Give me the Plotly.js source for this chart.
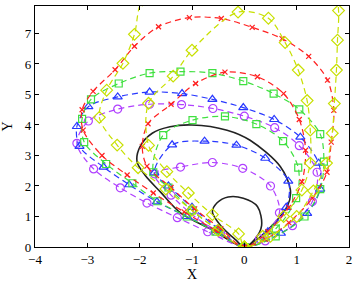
<!DOCTYPE html>
<html>
<head>
<meta charset="utf-8">
<script src="https://cdn.plot.ly/plotly-3.0.1.min.js"></script>
<style>html,body{margin:0;padding:0;background:#fff;}#chart{width:359px;height:285px;}</style>
</head>
<body>
<div id="chart"></div>
<script>
// Black solid loops
var blackSmallX = [0, -0.17, -0.45, -0.61, -0.52, -0.31, -0.02, 0.25, 0.33, 0.2, 0];
var blackSmallY = [0, 0.24, 0.7, 1.15, 1.45, 1.64, 1.6, 1.33, 0.7, 0.25, 0];
var blackBigX = [0, -0.6, -1.22, -1.6, -1.9, -2.05, -1.99, -1.76, -1.42, -1.0, -0.33, 0.11, 0.69, 0.88, 0.82, 0.31, 0];
var blackBigY = [0, 0.55, 1.12, 1.8, 2.36, 2.8, 3.3, 3.73, 3.94, 4.0, 3.83, 3.5, 2.63, 1.87, 1.33, 0.34, 0];

// Purple circles
var purpleInX = [0, -0.45, -0.95, -1.4, -1.72, -1.22, -0.61, -0.03, 0.5, 0.67, 0.29, 0];
var purpleInY = [0, 0.45, 1.0, 1.7, 2.4, 2.62, 2.77, 2.58, 2.0, 1.12, 0.27, 0];
var purpleOutX = [0, -0.7, -1.28, -1.86, -2.37, -2.88, -3.2, -2.98, -2.42, -1.81, -1.2, -0.6, 0, 0.58, 1.05, 1.39, 1.3, 0.92, 0.4, 0];
var purpleOutY = [0, 0.5, 0.96, 1.44, 1.94, 2.56, 3.4, 4.13, 4.52, 4.68, 4.67, 4.54, 4.29, 3.91, 3.32, 2.45, 1.49, 0.7, 0.2, 0];

// Blue triangles
var blueInX = [0, -0.5, -1.0, -1.45, -1.72, -1.38, -0.76, -0.15, 0.4, 0.84, 0.8, 0.45, 0];
var blueInY = [0, 0.6, 1.3, 2.0, 2.43, 3.35, 3.47, 3.34, 2.91, 2.16, 1.3, 0.5, 0];
var blueOutX = [0, -0.55, -1.1, -1.67, -2.2, -2.69, -3.15, -3.2, -2.98, -2.42, -1.81, -1.19, -0.61, -0.02, 0.57, 1.07, 1.42, 1.45, 1.2, 0.7, 0];
var blueOutY = [0, 0.55, 1.0, 1.48, 2.04, 2.62, 3.3, 3.95, 4.6, 4.92, 5.08, 5.03, 4.84, 4.57, 4.18, 3.6, 2.75, 1.9, 1.1, 0.45, 0];

// Green squares
var greenInX = [0, -0.5, -1.0, -1.45, -1.74, -1.55, -0.99, -0.37, 0.23, 0.74, 1.03, 0.99, 0.6, 0];
var greenInY = [0, 0.55, 1.2, 1.95, 2.45, 3.67, 4.16, 4.28, 4.03, 3.47, 2.6, 1.6, 0.6, 0];
var greenOutX = [0, -0.55, -1.1, -1.66, -2.14, -2.64, -3.06, -3.1, -2.93, -2.4, -1.81, -1.22, -0.61, -0.02, 0.56, 1.05, 1.45, 1.52, 1.45, 1.15, 0.6, 0];
var greenOutY = [0, 0.5, 1.0, 1.5, 2.09, 2.72, 3.44, 4.2, 4.84, 5.36, 5.7, 5.75, 5.7, 5.44, 5.03, 4.51, 3.7, 2.8, 1.9, 1.0, 0.35, 0];

// Red crosses
var redInX = [0, -0.45, -0.95, -1.4, -1.86, -1.95, -1.84, -1.4, -0.93, -0.37, 0.25, 0.75, 1.05, 1.17, 1.1, 0.85, 0.45, 0];
var redInY = [0, 0.6, 1.25, 1.95, 2.65, 3.3, 4.04, 4.68, 5.36, 5.73, 5.58, 5.03, 4.18, 3.17, 2.14, 1.3, 0.5, 0];
var redOutX = [0, -0.55, -1.15, -1.74, -2.24, -2.72, -3.08, -3.1, -2.89, -2.47, -2.1, -1.64, -1.05, -0.44, 0.15, 0.72, 1.23, 1.59, 1.71, 1.66, 1.58, 1.3, 0.85, 0.4, 0];
var redOutY = [0, 0.55, 1.15, 1.77, 2.36, 3.0, 3.83, 4.5, 5.1, 5.81, 6.58, 7.22, 7.52, 7.49, 7.2, 6.83, 6.25, 5.47, 4.48, 3.44, 2.45, 1.6, 0.8, 0.25, 0];

// Yellow-green diamonds
var yellowInX = [0, -0.11, -0.61, -1.07, -1.48, -1.83, -1.83, -1.36, -1.0, -0.12, 0.46, 0.78, 1.03, 1.2, 1.26, 1.26, 1.1, 0.75, 0.35, 0];
var yellowInY = [0, 0.43, 1.06, 1.77, 2.47, 3.33, 4.71, 5.6, 6.45, 7.7, 7.5, 6.7, 5.8, 4.8, 3.83, 2.75, 1.87, 1.0, 0.35, 0];
var yellowOutX = [0, -0.5, -1.0, -1.5, -2.03, -2.43, -2.77, -2.63, -2.32, -2.1, -1.95, -1.2, 0.3, 1.7, 1.8, 1.78, 1.76, 1.72, 1.68, 1.57, 1.32, 1.0, 0.5, 0];
var yellowOutY = [0, 0.55, 1.2, 1.9, 2.6, 3.34, 4.25, 5.14, 6.02, 6.97, 8.1, 9.2, 9.6, 8.7, 7.75, 6.78, 5.8, 4.7, 3.73, 2.75, 1.84, 1.0, 0.35, 0];

var xTicks = [-4, -3, -2, -1, 0, 1, 2];
var yTicks = [0, 1, 2, 3, 4, 5, 6, 7];

function loop(x, y, color, symbol, size, solid) {
  return {
    x: x, y: y, type: 'scatter',
    mode: solid ? 'lines' : 'lines+markers',
    line: {color: color, width: solid ? 1.6 : 1.2, dash: solid ? 'solid' : '6px,4px', shape: 'spline', smoothing: 0.9},
    marker: {symbol: symbol, size: size, color: color, line: {color: color, width: 1.2}},
    showlegend: false, hoverinfo: 'skip'
  };
}

var purple = '#b040ff', blue = '#2838ff', green = '#40e040', red = '#ff2020', yellow = '#c8e000';
var traces = [
  loop(blackSmallX, blackSmallY, '#222222', 'circle', 1, true),
  loop(blackBigX, blackBigY, '#222222', 'circle', 1, true),
  loop(purpleInX, purpleInY, purple, 'circle-open', 8),
  loop(purpleOutX, purpleOutY, purple, 'circle-open', 8),
  loop(blueInX, blueInY, blue, 'triangle-up-open', 8),
  loop(blueOutX, blueOutY, blue, 'triangle-up-open', 8),
  loop(greenInX, greenInY, green, 'square-open', 7),
  loop(greenOutX, greenOutY, green, 'square-open', 7),
  loop(redInX, redInY, red, 'x-thin-open', 5),
  loop(redOutX, redOutY, red, 'x-thin-open', 5),
  loop(yellowInX, yellowInY, yellow, 'diamond-open', 9),
  loop(yellowOutX, yellowOutY, yellow, 'diamond-open', 9)
];

var fontFam = '"Liberation Serif", "Times New Roman", serif';
var layout = {
  width: 359, height: 285,
  margin: {l: 35, r: 10, t: 6, b: 38},
  paper_bgcolor: '#ffffff', plot_bgcolor: '#ffffff',
  font: {family: fontFam, size: 13, color: '#000'},
  xaxis: {
    range: [-4, 2], tickvals: xTicks, ticktext: xTicks.map(function(v){return v < 0 ? '\u2212' + (-v) : String(v);}),
    ticks: 'inside', ticklen: 4, tickwidth: 1, tickcolor: '#000',
    showline: true, linecolor: '#000', linewidth: 1.2, mirror: 'ticks',
    showgrid: false, zeroline: false,
    title: {text: 'X', font: {family: fontFam, size: 14, color: '#000'}, standoff: 2}
  },
  yaxis: {
    range: [0, 7.9], tickvals: yTicks,
    ticks: 'inside', ticklen: 4, tickwidth: 1, tickcolor: '#000',
    showline: true, linecolor: '#000', linewidth: 1.2, mirror: 'ticks',
    showgrid: false, zeroline: false,
    title: {text: 'Y', font: {family: fontFam, size: 14, color: '#000'}, standoff: 8}
  }
};

Plotly.newPlot('chart', traces, layout, {staticPlot: true, displayModeBar: false});
</script>
</body>
</html>
